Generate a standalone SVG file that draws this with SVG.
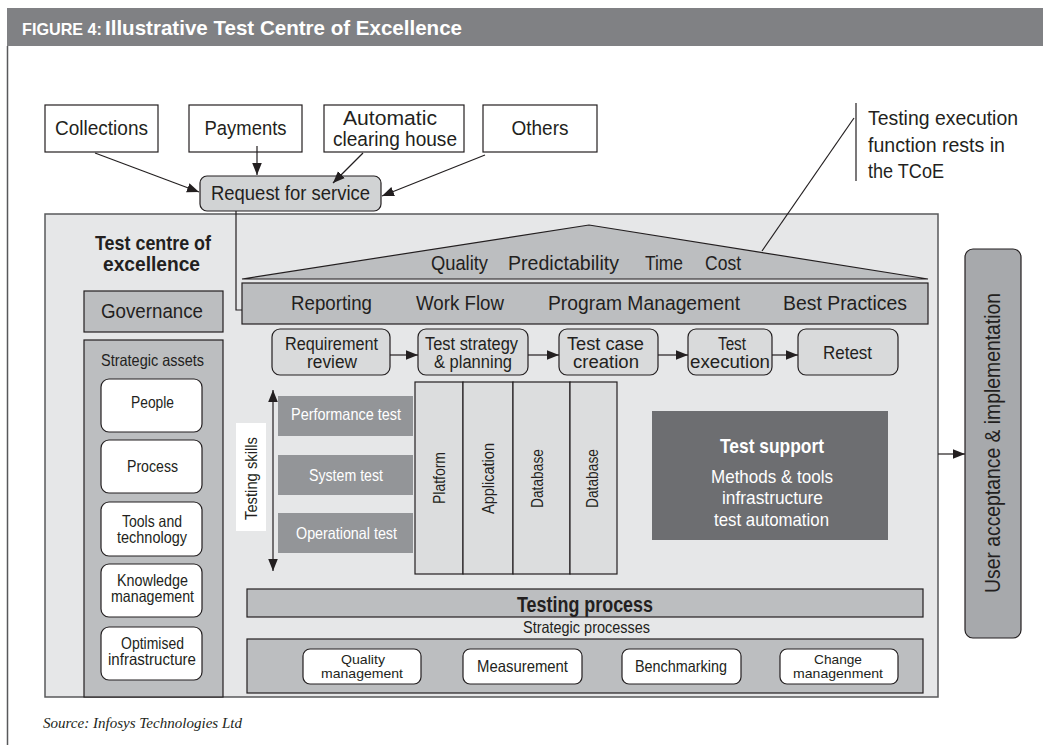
<svg xmlns="http://www.w3.org/2000/svg" width="1043" height="745" viewBox="0 0 1043 745">
<style>
text{font-family:"Liberation Sans",Arial,sans-serif;fill:#231f20}
.wb{fill:#fff;stroke:#231f20;stroke-width:1.2}
.g{fill:#bcbec0;stroke:#231f20;stroke-width:1.2}
.lg{fill:#d9dadb;stroke:#231f20;stroke-width:1.2}
.col{fill:#dcddde;stroke:#231f20;stroke-width:1.2}
.t20{font-size:20.5px}
.t18{font-size:18px}
.t19{font-size:19px}
.t15{font-size:16.5px}
.t14{font-size:13.5px}
.m{text-anchor:middle}
.w{fill:#fff}
.bd{font-weight:bold}
.ln{stroke:#231f20;stroke-width:1.2;fill:none}
</style>
<defs>
<marker id="ah2" viewBox="0 0 10 10" refX="10" refY="5" markerWidth="12" markerHeight="12" markerUnits="userSpaceOnUse" orient="auto-start-reverse"><path d="M0,1 L10,5 L0,9 z" fill="#231f20"/></marker>
</defs>
<rect width="1043" height="745" fill="#fff"/>
<g id="header">
<rect x="7" y="8" width="1036" height="38" fill="#808184"/>
<text x="22" y="35" class="w bd" font-size="17" textLength="80" lengthAdjust="spacingAndGlyphs">FIGURE 4:</text>
<text x="105" y="35" class="w bd" font-size="21" textLength="357" lengthAdjust="spacingAndGlyphs">Illustrative Test Centre of Excellence</text>
<line x1="7.5" y1="46" x2="7.5" y2="745" stroke="#58595b" stroke-width="1.5"/>
</g>
<g id="sources">
<g id="collections"><rect class="wb" x="45" y="105" width="113" height="47"/><text class="t20 m" x="101.5" y="135" textLength="93" lengthAdjust="spacingAndGlyphs">Collections</text></g>
<g id="payments"><rect class="wb" x="189" y="105" width="113" height="47"/><text class="t20 m" x="245.5" y="135" textLength="82" lengthAdjust="spacingAndGlyphs">Payments</text></g>
<g id="ach"><rect class="wb" x="324" y="105" width="140" height="47"/><text class="t20 m" x="390" y="125" textLength="94" lengthAdjust="spacingAndGlyphs">Automatic</text><text class="t20 m" x="395" y="146" textLength="124" lengthAdjust="spacingAndGlyphs">clearing house</text></g>
<g id="others"><rect class="wb" x="483" y="105" width="114" height="47"/><text class="t20 m" x="540" y="135" textLength="57" lengthAdjust="spacingAndGlyphs">Others</text></g>
</g>
<g id="request"><rect x="200" y="176" width="181" height="35" rx="7" fill="#d1d3d4" stroke="#231f20" stroke-width="1.2"/><text class="t20 m" x="290.5" y="200" textLength="159" lengthAdjust="spacingAndGlyphs">Request for service</text></g>
<g id="tcoe">
<rect x="45" y="214" width="893" height="483" fill="#e6e7e8" stroke="#58595b" stroke-width="1.5"/>
<text class="m bd" x="153" y="250" font-size="20.5" textLength="116" lengthAdjust="spacingAndGlyphs">Test centre of</text>
<text class="m bd" x="151.5" y="271" font-size="20.5" textLength="97" lengthAdjust="spacingAndGlyphs">excellence</text>
</g>
<g id="governance"><rect class="g" x="84" y="291" width="139" height="41"/><text class="t20 m" x="152" y="318" textLength="102" lengthAdjust="spacingAndGlyphs">Governance</text></g>
<g id="strategic-assets">
<rect class="g" x="84" y="340" width="139" height="357"/>
<text class="t15 m" x="152.5" y="366" textLength="103" lengthAdjust="spacingAndGlyphs">Strategic assets</text>
<g id="people"><rect class="wb" x="101" y="379" width="101" height="53" rx="8"/><text class="t15 m" x="152.5" y="408" textLength="43" lengthAdjust="spacingAndGlyphs">People</text></g>
<g id="process"><rect class="wb" x="101" y="440" width="101" height="53" rx="8"/><text class="t15 m" x="152.5" y="472" textLength="51" lengthAdjust="spacingAndGlyphs">Process</text></g>
<g id="tools"><rect class="wb" x="101" y="502" width="101" height="54" rx="8"/><text class="t15 m" x="152" y="527" textLength="60" lengthAdjust="spacingAndGlyphs">Tools and</text><text class="t15 m" x="152" y="543" textLength="70" lengthAdjust="spacingAndGlyphs">technology</text></g>
<g id="knowledge"><rect class="wb" x="101" y="564" width="101" height="53" rx="8"/><text class="t15 m" x="152.5" y="586" textLength="71" lengthAdjust="spacingAndGlyphs">Knowledge</text><text class="t15 m" x="152.5" y="602" textLength="83" lengthAdjust="spacingAndGlyphs">management</text></g>
<g id="optimised"><rect class="wb" x="101" y="627" width="101" height="53" rx="8"/><text class="t15 m" x="152.5" y="649" textLength="63" lengthAdjust="spacingAndGlyphs">Optimised</text><text class="t15 m" x="152" y="665" textLength="88" lengthAdjust="spacingAndGlyphs">infrastructure</text></g>
</g>
<g id="roof">
<polygon class="g" points="242,279 589,225 928,279"/>
<text class="t20" x="431" y="270" textLength="57" lengthAdjust="spacingAndGlyphs">Quality</text>
<text class="t20" x="508" y="270" textLength="111" lengthAdjust="spacingAndGlyphs">Predictability</text>
<text class="t20" x="645" y="270" textLength="38" lengthAdjust="spacingAndGlyphs">Time</text>
<text class="t20" x="705" y="270" textLength="36" lengthAdjust="spacingAndGlyphs">Cost</text>
</g>
<g id="pillars-bar">
<rect class="g" x="242" y="283" width="686" height="41"/>
<text class="t20" x="291" y="310" textLength="81" lengthAdjust="spacingAndGlyphs">Reporting</text>
<text class="t20" x="416" y="310" textLength="88" lengthAdjust="spacingAndGlyphs">Work Flow</text>
<text class="t20" x="548" y="310" textLength="192" lengthAdjust="spacingAndGlyphs">Program Management</text>
<text class="t20" x="783" y="310" textLength="124" lengthAdjust="spacingAndGlyphs">Best Practices</text>
</g>
<g id="req-review"><rect class="lg" x="272" y="329" width="118" height="46" rx="8"/><text class="t18 m" x="331.5" y="350" textLength="93" lengthAdjust="spacingAndGlyphs">Requirement</text><text class="t18 m" x="332" y="368" textLength="50" lengthAdjust="spacingAndGlyphs">review</text></g>
<g id="strategy"><rect class="lg" x="418" y="329" width="110" height="46" rx="8"/><text class="t18 m" x="471.5" y="350" textLength="93" lengthAdjust="spacingAndGlyphs">Test strategy</text><text class="t18 m" x="473" y="368" textLength="78" lengthAdjust="spacingAndGlyphs">&amp; planning</text></g>
<g id="case-creation"><rect class="lg" x="559" y="329" width="99" height="46" rx="8"/><text class="t18 m" x="605.5" y="350" textLength="77" lengthAdjust="spacingAndGlyphs">Test case</text><text class="t18 m" x="606" y="368" textLength="66" lengthAdjust="spacingAndGlyphs">creation</text></g>
<g id="execution"><rect class="lg" x="688" y="329" width="84" height="46" rx="8"/><text class="t18 m" x="732" y="350" textLength="28" lengthAdjust="spacingAndGlyphs">Test</text><text class="t18 m" x="730" y="368" textLength="80" lengthAdjust="spacingAndGlyphs">execution</text></g>
<g id="retest"><rect class="lg" x="798" y="329" width="100" height="46" rx="8"/><text class="t19 m" x="847.5" y="359" textLength="49" lengthAdjust="spacingAndGlyphs">Retest</text></g>
<g id="testing-skills">
<rect x="236" y="423" width="30" height="108" fill="#fff"/>
<text class="t15 m" transform="translate(257,478.5) rotate(-90)" textLength="83" lengthAdjust="spacingAndGlyphs">Testing skills</text>
</g>
<g id="perf"><rect x="278" y="396" width="135" height="40" fill="#939598"/><text class="t15 m w" x="346" y="420" textLength="110" lengthAdjust="spacingAndGlyphs">Performance test</text></g>
<g id="system"><rect x="278" y="455" width="135" height="40" fill="#939598"/><text class="t15 m w" x="346" y="481" textLength="74" lengthAdjust="spacingAndGlyphs">System test</text></g>
<g id="operational"><rect x="278" y="513" width="135" height="40" fill="#939598"/><text class="t15 m w" x="346.5" y="539" textLength="101" lengthAdjust="spacingAndGlyphs">Operational test</text></g>
<g id="columns">
<rect class="col" x="415" y="382" width="48" height="192"/>
<rect class="col" x="463" y="382" width="50" height="192"/>
<rect class="col" x="513" y="382" width="57" height="192"/>
<rect class="col" x="570" y="382" width="47" height="192"/>
<text class="t15 m" transform="translate(445,478) rotate(-90)" textLength="52" lengthAdjust="spacingAndGlyphs">Platform</text>
<text class="t15 m" transform="translate(494,478.5) rotate(-90)" textLength="71" lengthAdjust="spacingAndGlyphs">Application</text>
<text class="t15 m" transform="translate(543,478.5) rotate(-90)" textLength="59" lengthAdjust="spacingAndGlyphs">Database</text>
<text class="t15 m" transform="translate(598,478.5) rotate(-90)" textLength="59" lengthAdjust="spacingAndGlyphs">Database</text>
</g>
<g id="test-support">
<rect x="652" y="411" width="236" height="129" fill="#6d6e71"/>
<text class="m w bd" x="772" y="453" font-size="21" textLength="104" lengthAdjust="spacingAndGlyphs">Test support</text>
<text class="t19 m w" x="772" y="483" textLength="122" lengthAdjust="spacingAndGlyphs">Methods &amp; tools</text>
<text class="t19 m w" x="772.5" y="504" textLength="101" lengthAdjust="spacingAndGlyphs">infrastructure</text>
<text class="t19 m w" x="771.5" y="526" textLength="115" lengthAdjust="spacingAndGlyphs">test automation</text>
</g>
<g id="testing-process">
<rect class="g" x="247" y="589" width="676" height="28"/>
<text class="m bd" x="585" y="612" font-size="21.5" textLength="136" lengthAdjust="spacingAndGlyphs">Testing process</text>
<text class="t15 m" x="586.5" y="633" textLength="127" lengthAdjust="spacingAndGlyphs">Strategic processes</text>
</g>
<g id="strategic-processes">
<rect class="g" x="247" y="639" width="676" height="54"/>
<g id="quality-mgmt"><rect class="wb" x="303" y="649" width="118" height="35" rx="7"/><text class="t14 m" x="363" y="664" textLength="44" lengthAdjust="spacingAndGlyphs">Quality</text><text class="t14 m" x="362" y="678" textLength="82" lengthAdjust="spacingAndGlyphs">management</text></g>
<g id="measurement"><rect class="wb" x="463" y="649" width="119" height="35" rx="7"/><text class="t15 m" x="522.5" y="672" textLength="91" lengthAdjust="spacingAndGlyphs">Measurement</text></g>
<g id="benchmarking"><rect class="wb" x="622" y="649" width="119" height="35" rx="7"/><text class="t15 m" x="681" y="672" textLength="92" lengthAdjust="spacingAndGlyphs">Benchmarking</text></g>
<g id="change-mgmt"><rect class="wb" x="780" y="649" width="118" height="35" rx="7"/><text class="t14 m" x="838" y="664" textLength="48" lengthAdjust="spacingAndGlyphs">Change</text><text class="t14 m" x="838" y="678" textLength="90" lengthAdjust="spacingAndGlyphs">managenment</text></g>
</g>
<g id="user-acceptance">
<rect x="965" y="249" width="56" height="389" rx="8" fill="#a7a9ac" stroke="#231f20" stroke-width="1.2"/>
<text class="m" font-size="22" transform="translate(1000,443) rotate(-90)" textLength="300" lengthAdjust="spacingAndGlyphs">User acceptance &amp; implementation</text>
</g>
<g id="annotation">
<line class="ln" x1="856" y1="103" x2="856" y2="181"/>
<text x="868" y="125" font-size="19.5" textLength="150" lengthAdjust="spacingAndGlyphs">Testing execution</text>
<text x="868" y="152" font-size="19.5" textLength="137" lengthAdjust="spacingAndGlyphs">function rests in</text>
<text x="868" y="178" font-size="19.5" textLength="76" lengthAdjust="spacingAndGlyphs">the TCoE</text>
</g>
<g id="connectors">
<line class="ln" x1="95" y1="153" x2="199" y2="192" marker-end="url(#ah2)"/>
<line class="ln" x1="257" y1="146" x2="257" y2="175" marker-end="url(#ah2)"/>
<line class="ln" x1="363" y1="153" x2="333" y2="183" marker-end="url(#ah2)"/>
<line class="ln" x1="485" y1="155" x2="382" y2="196" marker-end="url(#ah2)"/>
<polyline class="ln" points="236,211 236,310 242,310"/>
<line class="ln" x1="854" y1="118" x2="762" y2="251"/>
<line class="ln" x1="390" y1="355" x2="418" y2="355" marker-end="url(#ah2)"/>
<line class="ln" x1="528" y1="355" x2="559" y2="355" marker-end="url(#ah2)"/>
<line class="ln" x1="658" y1="355" x2="688" y2="355" marker-end="url(#ah2)"/>
<line class="ln" x1="772" y1="355" x2="798" y2="355" marker-end="url(#ah2)"/>
<line class="ln" x1="273" y1="390" x2="273" y2="571" stroke-width="1.5" marker-start="url(#ah2)" marker-end="url(#ah2)"/>
<line class="ln" x1="938" y1="454" x2="965" y2="454" marker-end="url(#ah2)"/>
</g>
<text x="43" y="728" font-style="italic" font-size="15" style="font-family:'Liberation Serif',serif" textLength="199" lengthAdjust="spacingAndGlyphs">Source: Infosys Technologies Ltd</text>
</svg>
